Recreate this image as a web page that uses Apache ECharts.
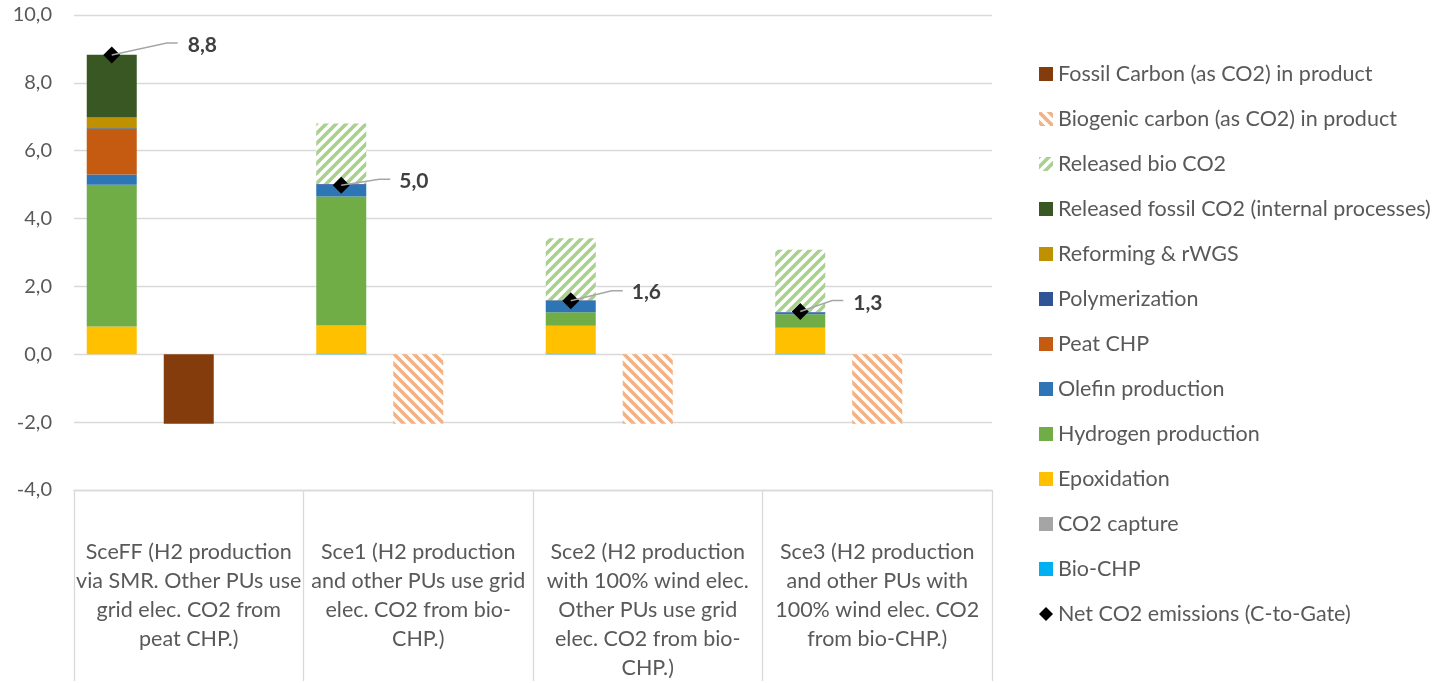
<!DOCTYPE html>
<html><head><meta charset="utf-8">
<script src="https://cdn.jsdelivr.net/npm/echarts@6/dist/echarts.min.js"></script>
<style>html,body{margin:0;padding:0;background:#fff}#c{width:1444px;height:683px}</style>
</head><body><div id="c"></div>
<script>
// ---------- DATA ----------
const categories = [
  'SceFF (H2 production\nvia SMR. Other PUs use\ngrid elec. CO2 from\npeat CHP.)',
  'Sce1 (H2 production\nand other PUs use grid\nelec. CO2 from bio-\nCHP.)',
  'Sce2 (H2 production\nwith 100% wind elec.\nOther PUs use grid\nelec. CO2 from bio-\nCHP.)',
  'Sce3 (H2 production\nand other PUs with\n100% wind elec. CO2\nfrom bio-CHP.)'
];
const bioCHP                  = [0,     0.02,  0.02,  0.02];
const co2Capture              = [0,     0.01,  0.01,  0.01];
const epoxidation             = [0.82,  0.82,  0.81,  0.75];
const hydrogenProduction      = [4.18,  3.80,  0.40,  0.40];
const olefinProduction        = [0.30,  0.35,  0.33,  0.05];
const peatCHP                 = [1.34,  0,     0,     0];
const polymerization          = [0.02,  0.02,  0.02,  0.02];
const reformingRWGS           = [0.32,  0,     0,     0];
const releasedFossilCO2       = [1.85,  0,     0,     0];
const releasedBioCO2          = [0,     1.78,  1.83,  1.83];
const biogenicCarbonInProduct = [0,    -2.05, -2.05, -2.05];
const fossilCarbonInProduct   = [-2.05, 0,     0,     0];
const netCO2                  = [8.82,  4.98,  1.58,  1.26];
const yTicks = [-4, -2, 0, 2, 4, 6, 8, 10];

// ---------- LAYOUT / STYLE ----------
const FONT = 'Lato';
const BAR_W = 50, BAR_GAP = 27;
const DIA = 8.5;
// [lineEndDx, lineEndDy, textDx, textDy] for each net label (manual placement as in reference)
const netLabelLayout = [[66, -12, 76, -10], [49, -6, 58, -4], [52, -10, 61, -8], [43, -11, 53, -8]];
const fmt = v => v.toFixed(1).replace('.', ',');

function stripes(color, dir) {
  const s = 10, c = document.createElement('canvas');
  c.width = s; c.height = s;
  const g = c.getContext('2d');
  g.fillStyle = '#fff'; g.fillRect(0, 0, s, s);
  g.strokeStyle = color; g.lineWidth = 3.6; g.lineCap = 'square';
  g.beginPath();
  for (let k = -1; k <= 1; k++) {
    if (dir === '/') { g.moveTo(k * s - 2, s + 2); g.lineTo(k * s + s + 2, -2); }
    else { g.moveTo(k * s - 2, -2); g.lineTo(k * s + s + 2, s + 2); }
  }
  g.stroke();
  return { image: c, repeat: 'repeat' };
}

const barBase = { type: 'bar', barWidth: BAR_W, barGap: (BAR_GAP / BAR_W * 100) + '%' };
const posSeries = [
  ['Bio-CHP', bioCHP, '#00b0f0'],
  ['CO2 capture', co2Capture, '#a5a5a5'],
  ['Epoxidation', epoxidation, '#ffc000'],
  ['Hydrogen production', hydrogenProduction, '#70ad47'],
  ['Olefin production', olefinProduction, '#2e75b6'],
  ['Peat CHP', peatCHP, '#c55a11'],
  ['Polymerization', polymerization, '#2f5597'],
  ['Reforming & rWGS', reformingRWGS, '#bf9000'],
  ['Released fossil CO2 (internal processes)', releasedFossilCO2, '#385723'],
  ['Released bio CO2', releasedBioCO2, stripes('#a9d18e', '/')]
].map(([name, data, color]) => Object.assign({}, barBase, { name, data, stack: 'pos', itemStyle: { color } }));

const negSeries = [
  ['Biogenic carbon (as CO2) in product', biogenicCarbonInProduct, stripes('#f4b183', '\\')],
  ['Fossil Carbon (as CO2) in product', fossilCarbonInProduct, '#843c0c']
].map(([name, data, color]) => Object.assign({}, barBase, { name, data, stack: 'neg', itemStyle: { color } }));

const padSeries = Object.assign({}, barBase, { name: '_pad', data: categories.map(() => null), stack: 'pad', silent: true });

const netSeries = {
  type: 'custom', name: 'Net CO2 emissions (C-to-Gate)',
  itemStyle: { color: '#000' },
  data: netCO2.map((v, i) => [i, v]),
  encode: { x: 0, y: 1 },
  z: 10,
  renderItem(params, api) {
    const p = api.coord([api.value(0), api.value(1)]);
    const x = p[0] - (BAR_W + BAR_GAP), y = p[1];
    const L = netLabelLayout[params.dataIndex];
    return {
      type: 'group', children: [
        { type: 'polygon', shape: { points: [[x, y - DIA], [x + DIA, y], [x, y + DIA], [x - DIA, y]] }, style: { fill: '#000' } },
        { type: 'polyline', shape: { points: [[x, y], [x + L[0] - 11, y + L[1]], [x + L[0], y + L[1]]] }, style: { stroke: '#a6a6a6', lineWidth: 1.5, fill: null } },
        { type: 'text', style: { text: fmt(api.value(1)), x: x + L[2], y: y + L[3], align: 'left', verticalAlign: 'middle', fontFamily: FONT, fontWeight: 'bold', fontSize: 21, fill: '#404040' } }
      ]
    };
  }
};

const legendOrder = [
  'Fossil Carbon (as CO2) in product', 'Biogenic carbon (as CO2) in product', 'Released bio CO2',
  'Released fossil CO2 (internal processes)', 'Reforming & rWGS', 'Polymerization', 'Peat CHP',
  'Olefin production', 'Hydrogen production', 'Epoxidation', 'CO2 capture', 'Bio-CHP'
];

const chart = echarts.init(document.getElementById('c'), null, { renderer: 'canvas' });
chart.setOption({
  animation: false,
  backgroundColor: '#fff',
  textStyle: { fontFamily: FONT },
  grid: { left: 74, right: 452, top: 15, bottom: 190, containLabel: false },
  legend: {
    orient: 'vertical', left: 1034, top: 58,
    itemWidth: 14, itemHeight: 14, itemGap: 23,
    textStyle: { fontFamily: FONT, fontSize: 21.5, color: '#595959', lineHeight: 20 },
    data: legendOrder.map(n => ({ name: n, icon: 'rect' })).concat([{ name: 'Net CO2 emissions (C-to-Gate)', icon: 'diamond' }])
  },
  xAxis: {
    type: 'category', data: categories, position: 'bottom',
    axisLine: { show: true, onZero: false, lineStyle: { color: '#d9d9d9', width: 1.3 } },
    axisTick: { show: true, length: 191, lineStyle: { color: '#d9d9d9', width: 1.3 } },
    axisLabel: { interval: 0, margin: 48, fontFamily: FONT, fontSize: 21.5, lineHeight: 29, color: '#595959', align: 'center' },
    splitLine: { show: false }
  },
  yAxis: {
    type: 'value', min: yTicks[0], max: yTicks[yTicks.length - 1], interval: yTicks[1] - yTicks[0],
    axisLine: { show: false }, axisTick: { show: false },
    axisLabel: { formatter: v => fmt(v), fontFamily: FONT, fontSize: 20, color: '#595959', margin: 22 },
    splitLine: { lineStyle: { color: '#d9d9d9', width: 1.3 } }
  },
  series: posSeries.concat(negSeries, [padSeries, netSeries])
});
</script>
</body></html>
